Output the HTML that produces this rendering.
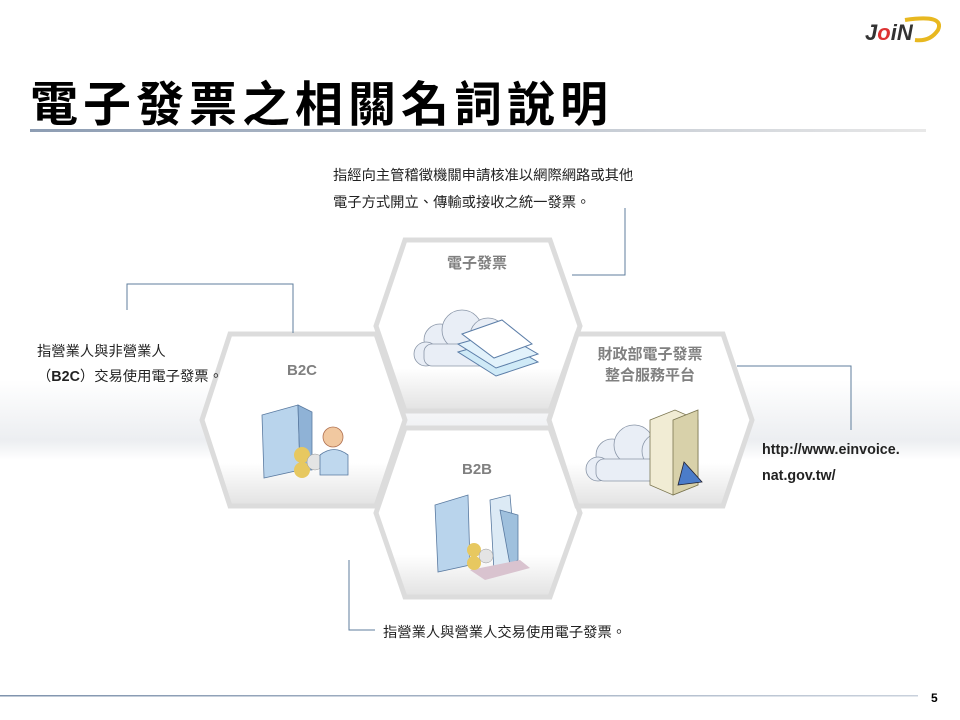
<!DOCTYPE html>
<html><head><meta charset="utf-8"><style>
body{margin:0;width:960px;height:720px;overflow:hidden;background:#fff;font-family:"Liberation Sans","Noto Sans CJK TC",sans-serif}
svg{position:absolute;left:0;top:0}
text{font-family:"Liberation Sans","Noto Sans CJK TC",sans-serif}
</style></head><body>
<svg width="960" height="720" viewBox="0 0 960 720">
<defs>
<linearGradient id="band" x1="0" y1="0" x2="0" y2="1">
<stop offset="0" stop-color="#fff"/><stop offset="0.75" stop-color="#eceef1"/><stop offset="1" stop-color="#fff"/></linearGradient>
<linearGradient id="hexg" x1="0" y1="0" x2="0" y2="1">
<stop offset="0" stop-color="#fff"/><stop offset="0.75" stop-color="#fff"/><stop offset="1" stop-color="#e2e2e2"/></linearGradient>
<linearGradient id="tl" x1="0" y1="0" x2="1" y2="0">
<stop offset="0" stop-color="#8d9db3"/><stop offset="1" stop-color="#e8e8e8"/></linearGradient>
<linearGradient id="bl" x1="0" y1="0" x2="1" y2="0">
<stop offset="0" stop-color="#7f93ad"/><stop offset="1" stop-color="#c9d1dc"/></linearGradient>
<g id="cloud"><g fill="#e9eef6" stroke="#8a96a8" stroke-width="0.8">
<circle cx="0" cy="0" r="16"/><circle cx="22" cy="-10" r="20"/><circle cx="48" cy="-4" r="18"/><circle cx="68" cy="6" r="14"/><circle cx="-14" cy="14" r="12"/><rect x="-16" y="4" width="86" height="22" rx="8"/></g></g>
</defs>
<rect x="0" y="380" width="960" height="80" fill="url(#band)"/>
<text x="30" y="121" font-size="48" font-weight="bold" letter-spacing="5" fill="#000">電子發票之相關名詞說明</text>
<rect x="30" y="129" width="896" height="3" fill="url(#tl)"/>
<text x="865" y="40" font-size="22" font-weight="bold" font-style="italic" fill="#333">J<tspan fill="#d33">o</tspan>iN</text>
<path d="M905 20 Q945 14 938 30 Q930 42 915 40" fill="none" stroke="#e8b820" stroke-width="4"/>
<g stroke="#dcdcdc" stroke-width="5" fill="url(#hexg)">
<polygon points="405,240 550,240 580,326 550,411 405,411 376,326"/>
<polygon points="230,334 376,334 405,420 376,506 230,506 202,420"/>
<polygon points="405,428 550,428 580,513 550,597 405,597 376,513"/>
<polygon points="577,334 723,334 752,420 723,506 577,506 549,420"/>
</g>
<g fill="#808080" font-size="15" font-weight="bold" text-anchor="middle">
<text x="477" y="268">電子發票</text>
<text x="302" y="375">B2C</text>
<text x="477" y="474">B2B</text>
<text x="650" y="359">財政部電子發票</text>
<text x="650" y="380">整合服務平台</text>
</g>
<use href="#cloud" x="440" y="340"/>
<g stroke="#5c7ea8" stroke-width="1"><polygon points="458,352 500,340 538,362 496,376" fill="#cfeaf7"/><polygon points="458,344 500,332 538,354 496,368" fill="#e2f2fb"/><polygon points="462,334 502,320 532,344 494,358" fill="#fff"/></g>
<g stroke="#5a7aa0" stroke-width="0.8"><polygon points="262,415 298,405 300,470 264,478" fill="#b9d4ec"/><polygon points="298,405 312,412 312,470 300,470" fill="#8fb2d6"/></g>
<circle cx="302" cy="455" r="8" fill="#e7c860"/><circle cx="302" cy="470" r="8" fill="#e7c860"/><circle cx="315" cy="462" r="8" fill="#e4e4e4" stroke="#999" stroke-width="0.5"/>
<circle cx="333" cy="437" r="10" fill="#f1c8a0" stroke="#b07050" stroke-width="0.8"/><path d="M320 475 L320 455 Q334 444 348 455 L348 475Z" fill="#bfd8ee" stroke="#5a7aa0" stroke-width="0.8"/>
<g stroke="#5a7aa0" stroke-width="0.8"><polygon points="435,505 468,495 470,565 438,572" fill="#b9d4ec"/><polygon points="490,500 510,495 516,565 494,572" fill="#dceaf5"/><polygon points="500,510 518,515 518,560 510,565" fill="#9fc0dd"/></g>
<polygon points="470,570 520,560 530,568 485,580" fill="#d9c3cf"/>
<circle cx="474" cy="550" r="7" fill="#e7c860"/><circle cx="474" cy="563" r="7" fill="#e7c860"/><circle cx="486" cy="556" r="7" fill="#e4e4e4" stroke="#999" stroke-width="0.5"/>
<use href="#cloud" x="612" y="455"/>
<g stroke="#7a7550" stroke-width="0.8"><polygon points="650,420 675,410 698,420 698,485 673,495 650,485" fill="#f1ecd4"/><polygon points="673,420 698,410 698,485 673,495" fill="#d8d1aa"/></g>
<polygon points="684,462 678,485 702,482" fill="#4b7cc9" stroke="#223" stroke-width="0.8"/>
<g stroke="#5f7e9c" stroke-width="1" fill="none">
<polyline points="572,275 625,275 625,208"/>
<polyline points="293,333 293,284 127,284 127,310"/>
<polyline points="737,366 851,366 851,430"/>
<polyline points="349,560 349,630 375,630"/>
</g>
<g fill="#222" font-size="14.3">
<text x="333" y="180">指經向主管稽徵機關申請核准以網際網路或其他</text>
<text x="333" y="207">電子方式開立、傳輸或接收之統一發票。</text>
<text x="37" y="356">指營業人與非營業人</text>
<text x="37" y="381">（<tspan font-weight="bold">B2C</tspan>）交易使用電子發票。</text>
<text x="383" y="637">指營業人與營業人交易使用電子發票。</text>
<text x="762" y="454" font-weight="bold">http://www.einvoice.</text>
<text x="762" y="480" font-weight="bold">nat.gov.tw/</text>
</g>
<rect x="0" y="695" width="918" height="1.5" fill="url(#bl)"/>
<text x="931" y="702" font-size="12" font-weight="bold" fill="#000">5</text>
</svg>
</body></html>
